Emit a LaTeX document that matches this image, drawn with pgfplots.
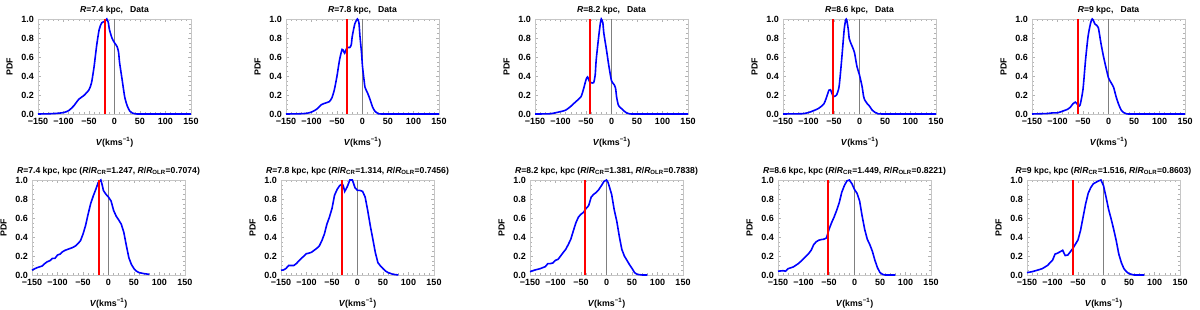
\documentclass[border=0pt]{standalone}
\usepackage{pgfplots}
\pgfplotsset{compat=1.18}
\usepackage{fontspec}
\setmainfont{Liberation Sans}
\pgfplotsset{
 panel/.style={scale only axis, width=153pt, height=95pt, anchor=south west,
  xmin=-150,xmax=150,ymin=0,ymax=1, clip=false,
  axis line style={gray!45, line width=0.6pt},
  xtick={-150,-100,-50,0,50,100,150}, xticklabels={−150,−100,−50,0,50,100,150},
  ytick={0,0.2,0.4,0.6,0.8,1}, yticklabels={0.0,0.2,0.4,0.6,0.8,1.0},
  minor x tick num=4, minor y tick num=3,
  tick style={gray!60, line width=0.4pt},
  major tick length=3pt, minor tick length=1.6pt, tick align=inside,
  ticklabel style={font=\fontsize{9}{10}\selectfont\bfseries},
  xticklabel style={yshift=-0.5pt}, yticklabel style={xshift=-0.5pt},
  xlabel={\textit{V}(kms\textsuperscript{−1})}, ylabel={PDF},
  xlabel style={yshift=-6pt}, ylabel style={yshift=2pt},
  label style={font=\fontsize{8.8}{10}\selectfont\bfseries},
  title style={font=\fontsize{8.6}{10}\selectfont\bfseries, anchor=base, yshift=0.5pt},
 },
 zline/.style={gray, line width=0.8pt},
 rline/.style={red, line width=2pt},
 bline/.style={blue, line width=1.6pt},
}
\begin{document}
\begin{tikzpicture}
\path[use as bounding box] (0,0) rectangle (1200pt,310pt);
% ---------- top row ----------
\begin{axis}[panel, at={(38pt,196pt)}, title={\textit{R}=7.4 kpc,\ \ \ Data}]
\addplot[zline] coordinates {(0,0)(0,1)};
\addplot[bline, smooth, tension=0.4] coordinates {(-150,0)(-130,0.002)(-115,0.006)(-100,0.015)(-90,0.035)(-80,0.085)(-70,0.155)(-60,0.195)(-50,0.255)(-45,0.33)(-40,0.50)(-35,0.72)(-30,0.89)(-25,0.96)(-20,0.975)(-17,0.985)(-15,1.0)(-12,0.96)(-10,0.89)(-5,0.80)(0,0.75)(5,0.71)(8,0.65)(10,0.54)(15,0.36)(20,0.18)(25,0.085)(30,0.03)(35,0.01)(40,0.003)(50,0)(150,0)};
\addplot[rline] coordinates {(-18,0)(-18,1)};
\end{axis}
\begin{axis}[panel, at={(286pt,196pt)}, title={\textit{R}=7.8 kpc,\ \ \ Data}]
\addplot[zline] coordinates {(0,0)(0,1)};
\addplot[bline, smooth, tension=0.4] coordinates {(-150,0)(-125,0.002)(-110,0.007)(-100,0.02)(-90,0.05)(-80,0.10)(-70,0.12)(-65,0.13)(-60,0.17)(-55,0.26)(-50,0.40)(-45,0.57)(-40,0.68)(-37,0.66)(-35,0.64)(-32,0.68)(-30,0.70)(-25,0.70)(-22,0.73)(-20,0.82)(-15,0.95)(-10,1.0)(-7,0.96)(-5,0.82)(-2,0.65)(0,0.50)(3,0.36)(5,0.28)(10,0.22)(15,0.15)(20,0.07)(25,0.025)(30,0.007)(40,0)(150,0)};
\addplot[rline] coordinates {(-30,0)(-30,1)};
\end{axis}
\begin{axis}[panel, at={(535pt,196pt)}, title={\textit{R}=8.2 kpc,\ \ \ Data}]
\addplot[zline] coordinates {(0,0)(0,1)};
\addplot[bline, smooth, tension=0.4] coordinates {(-150,0)(-120,0.003)(-100,0.025)(-90,0.04)(-80,0.08)(-70,0.13)(-60,0.18)(-55,0.26)(-50,0.36)(-47,0.39)(-43,0.34)(-40,0.33)(-35,0.33)(-32,0.41)(-30,0.57)(-25,0.82)(-22,0.95)(-20,1.0)(-17,0.96)(-15,0.85)(-10,0.68)(-5,0.50)(0,0.35)(5,0.31)(8,0.27)(10,0.18)(13,0.10)(15,0.08)(20,0.055)(25,0.03)(30,0.01)(35,0.003)(45,0)(150,0)};
\addplot[rline] coordinates {(-42,0)(-42,1)};
\end{axis}
\begin{axis}[panel, at={(783pt,196pt)}, title={\textit{R}=8.6 kpc,\ \ \ Data}]
\addplot[zline] coordinates {(0,0)(0,1)};
\addplot[bline, smooth, tension=0.4] coordinates {(-150,0)(-120,0.002)(-110,0.004)(-100,0.015)(-90,0.035)(-80,0.06)(-70,0.105)(-65,0.17)(-60,0.25)(-57,0.255)(-55,0.23)(-52,0.19)(-50,0.185)(-45,0.20)(-40,0.29)(-35,0.57)(-30,0.89)(-27,0.99)(-25,0.99)(-22,0.89)(-20,0.79)(-15,0.72)(-10,0.65)(-5,0.50)(0,0.41)(5,0.29)(8,0.185)(10,0.15)(15,0.11)(20,0.08)(25,0.04)(30,0.018)(35,0.007)(45,0)(150,0)};
\addplot[rline] coordinates {(-51,0)(-51,1)};
\end{axis}
\begin{axis}[panel, at={(1032pt,196pt)}, title={\textit{R}=9 kpc,\ \ \ Data}]
\addplot[zline] coordinates {(0,0)(0,1)};
\addplot[bline, smooth, tension=0.4] coordinates {(-150,0)(-120,0.005)(-110,0.012)(-100,0.012)(-90,0.03)(-80,0.05)(-75,0.07)(-70,0.105)(-65,0.125)(-60,0.095)(-57,0.085)(-55,0.11)(-50,0.26)(-45,0.57)(-40,0.82)(-35,0.96)(-32,1.0)(-30,0.99)(-27,0.95)(-25,0.94)(-20,0.91)(-15,0.75)(-10,0.61)(-5,0.49)(0,0.38)(5,0.33)(10,0.28)(15,0.18)(20,0.10)(25,0.04)(30,0.014)(35,0.003)(45,0)(150,0)};
\addplot[rline] coordinates {(-60,0)(-60,1)};
\end{axis}
% ---------- bottom row ----------
\begin{axis}[panel, at={(32pt,35pt)}, title={\textit{R}=7.4 kpc, kpc (\textit{R}/\textit{R}\textsubscript{CR}=1.247, \textit{R}/\textit{R}\textsubscript{OLR}=0.7074)}]
\addplot[zline] coordinates {(0,0)(0,1)};
\addplot[bline] coordinates {(-150,0.05)(-145,0.065)(-140,0.077)(-130,0.095)(-125,0.12)(-120,0.14)(-115,0.15)(-110,0.175)(-105,0.175)(-100,0.21)(-95,0.22)(-90,0.245)(-85,0.26)(-80,0.27)(-75,0.28)(-70,0.29)(-65,0.305)(-60,0.33)(-55,0.36)(-50,0.43)(-45,0.52)(-40,0.64)(-35,0.75)(-30,0.83)(-25,0.90)(-20,0.975)(-17,0.99)(-15,1.0)(-12,0.94)(-10,0.89)(-5,0.85)(0,0.82)(5,0.78)(10,0.68)(15,0.62)(20,0.58)(25,0.535)(30,0.45)(35,0.31)(40,0.18)(45,0.11)(50,0.067)(55,0.04)(60,0.025)(70,0.014)(80,0.007)};
\addplot[rline] coordinates {(-18,0)(-18,1)};
\end{axis}
\begin{axis}[panel, at={(281pt,35pt)}, title={\textit{R}=7.8 kpc, kpc (\textit{R}/\textit{R}\textsubscript{CR}=1.314, \textit{R}/\textit{R}\textsubscript{OLR}=0.7456)}]
\addplot[zline] coordinates {(0,0)(0,1)};
\addplot[bline] coordinates {(-150,0.05)(-145,0.053)(-140,0.07)(-135,0.10)(-130,0.10)(-125,0.10)(-120,0.12)(-110,0.175)(-100,0.225)(-95,0.23)(-90,0.24)(-80,0.28)(-75,0.305)(-70,0.36)(-65,0.43)(-60,0.535)(-55,0.61)(-50,0.70)(-45,0.84)(-40,0.90)(-35,0.94)(-30,0.96)(-28,0.94)(-25,0.88)(-20,0.93)(-15,1.0)(-10,1.0)(-5,0.92)(0,0.89)(5,0.89)(10,0.88)(15,0.82)(20,0.68)(25,0.52)(30,0.38)(35,0.235)(40,0.13)(45,0.095)(50,0.067)(55,0.042)(60,0.025)(70,0.007)(80,0)};
\addplot[rline] coordinates {(-30,0)(-30,1)};
\end{axis}
\begin{axis}[panel, at={(530pt,35pt)}, title={\textit{R}=8.2 kpc, kpc (\textit{R}/\textit{R}\textsubscript{CR}=1.381, \textit{R}/\textit{R}\textsubscript{OLR}=0.7838)}]
\addplot[zline] coordinates {(0,0)(0,1)};
\addplot[bline] coordinates {(-150,0.035)(-140,0.053)(-130,0.067)(-120,0.088)(-115,0.12)(-110,0.12)(-105,0.127)(-100,0.155)(-95,0.165)(-90,0.20)(-85,0.236)(-80,0.27)(-75,0.32)(-70,0.377)(-65,0.465)(-60,0.55)(-55,0.61)(-50,0.64)(-45,0.66)(-40,0.70)(-35,0.73)(-30,0.82)(-25,0.85)(-20,0.87)(-15,0.90)(-10,0.94)(-5,0.985)(0,1.0)(3,0.975)(5,0.94)(10,0.85)(15,0.69)(20,0.57)(25,0.41)(30,0.27)(35,0.20)(40,0.155)(45,0.11)(50,0.07)(55,0.025)(60,0.007)(70,0)(80,0)};
\addplot[rline] coordinates {(-42,0)(-42,1)};
\end{axis}
\begin{axis}[panel, at={(778pt,35pt)}, title={\textit{R}=8.6 kpc, kpc (\textit{R}/\textit{R}\textsubscript{CR}=1.449, \textit{R}/\textit{R}\textsubscript{OLR}=0.8221)}]
\addplot[zline] coordinates {(0,0)(0,1)};
\addplot[bline] coordinates {(-150,0.04)(-140,0.045)(-135,0.04)(-130,0.067)(-120,0.085)(-110,0.12)(-100,0.17)(-90,0.225)(-85,0.26)(-80,0.32)(-75,0.35)(-70,0.366)(-65,0.373)(-60,0.377)(-55,0.39)(-50,0.48)(-45,0.55)(-40,0.61)(-35,0.68)(-30,0.76)(-25,0.87)(-20,0.94)(-15,0.99)(-10,1.0)(-5,0.96)(0,0.90)(5,0.86)(10,0.78)(15,0.62)(20,0.48)(25,0.377)(30,0.32)(35,0.25)(40,0.155)(45,0.077)(50,0.025)(55,0.007)(60,0)(80,0)};
\addplot[rline] coordinates {(-51,0)(-51,1)};
\end{axis}
\begin{axis}[panel, at={(1027pt,35pt)}, title={\textit{R}=9 kpc, kpc (\textit{R}/\textit{R}\textsubscript{CR}=1.516, \textit{R}/\textit{R}\textsubscript{OLR}=0.8603)}]
\addplot[zline] coordinates {(0,0)(0,1)};
\addplot[bline] coordinates {(-150,0.025)(-140,0.035)(-130,0.05)(-120,0.067)(-110,0.10)(-100,0.155)(-95,0.22)(-90,0.23)(-85,0.245)(-80,0.26)(-77,0.225)(-75,0.205)(-70,0.21)(-65,0.245)(-60,0.28)(-55,0.325)(-50,0.37)(-45,0.47)(-40,0.61)(-35,0.75)(-30,0.86)(-25,0.92)(-20,0.96)(-15,0.975)(-10,0.99)(-5,1.0)(0,0.94)(5,0.82)(10,0.69)(15,0.59)(20,0.48)(25,0.36)(30,0.22)(35,0.13)(40,0.067)(45,0.035)(50,0.014)(60,0)(80,0)};
\addplot[rline] coordinates {(-60,0)(-60,1)};
\end{axis}
\end{tikzpicture}
\end{document}
